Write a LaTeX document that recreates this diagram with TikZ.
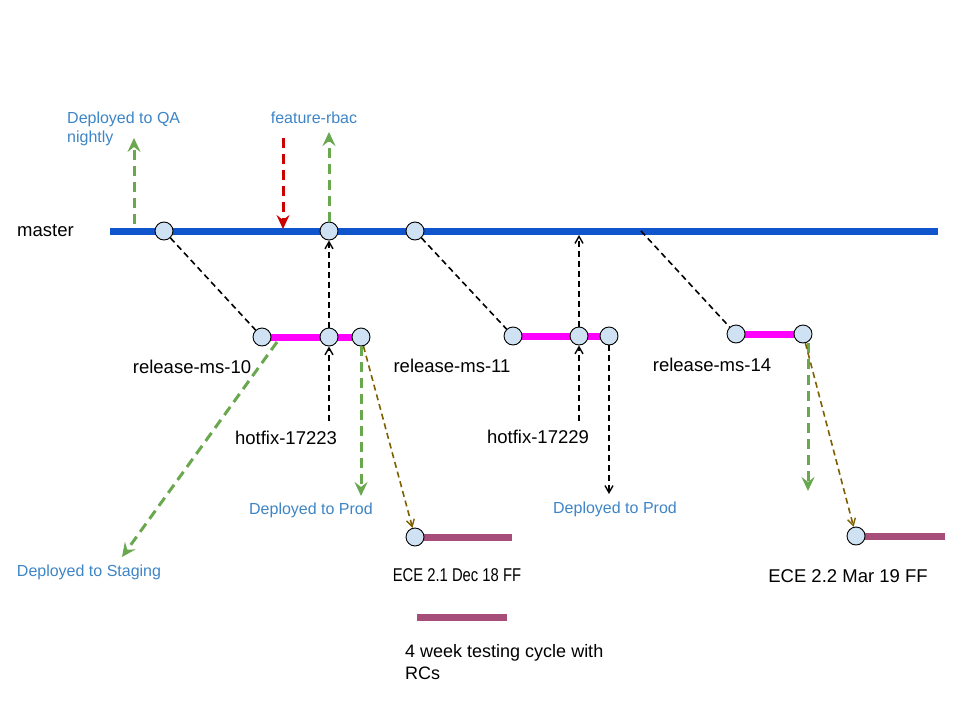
\documentclass[tikz,border=0pt]{standalone}
\usepackage{fontspec}
\setmainfont{Liberation Sans}
\usetikzlibrary{arrows.meta,backgrounds}
\definecolor{masterblue}{HTML}{1155CC}
\definecolor{relmag}{HTML}{FF00FF}
\definecolor{ecebar}{HTML}{A64D79}
\definecolor{cfill}{HTML}{CFE2F3}
\definecolor{dgreen}{HTML}{6AA84F}
\definecolor{dred}{HTML}{CC0000}
\definecolor{dbrown}{HTML}{7F6000}
\definecolor{lblue}{HTML}{3D85C6}
\tikzset{
  commit/.style={circle,draw=black,fill=cfill,minimum size=18pt,inner sep=0pt,line width=0.9pt},
  blabel/.style={text=black,font=\fontsize{18.5}{21}\selectfont,inner sep=0pt},
  clabel/.style={text=lblue,font=\fontsize{16}{19}\selectfont,inner sep=0pt,align=left},
  mline/.style={draw=masterblue,line width=7pt},
  rline/.style={draw=relmag,line width=7pt},
  eline/.style={draw=ecebar,line width=7pt},
  blk/.style={draw=black,line width=1.6pt,dash pattern=on 6pt off 4pt},
  blkarr/.style={blk,-{Straight Barb[length=7pt,width=8pt,line width=1.4pt]}},
  grn/.style={draw=dgreen,line width=3pt,dash pattern=on 10pt off 6pt},
  grnarr/.style={grn,-{Stealth[length=14pt,width=13pt,inset=5pt]}},
  redarr/.style={draw=dred,line width=3pt,dash pattern=on 10pt off 6pt,-{Stealth[length=14pt,width=13pt,inset=5pt]}},
  brnarr/.style={draw=dbrown,line width=1.6pt,dash pattern=on 6pt off 4pt,-{Straight Barb[length=7pt,width=8pt,line width=1.4pt]}},
}
\begin{document}
\begin{tikzpicture}[x=1pt,y=-1pt]
\useasboundingbox (0,0) rectangle (960,720);

% free ends
\coordinate (mL) at (110,231);
\coordinate (mR) at (938,231);
\coordinate (qaTop) at (134,138);
\coordinate (qaBot) at (134,224);
\coordinate (redTop) at (283,138);
\coordinate (redBot) at (283,229);
\coordinate (rbacTop) at (329,132);
\coordinate (stgStart) at (277,342);
\coordinate (stgEnd) at (122,557);
\coordinate (hf1) at (329,421);
\coordinate (prod1) at (361,496);
\coordinate (m11up) at (579,235);
\coordinate (hf2) at (579,421);
\coordinate (prod2) at (609,494);
\coordinate (m14) at (641,231);
\coordinate (g14s) at (808,343);
\coordinate (g14e) at (808,491);
\coordinate (e1R) at (512,537);
\coordinate (e2R) at (945,536);
\coordinate (legL) at (417,617);
\coordinate (legR) at (507,617);

% commits
\node[commit] (m1) at (164,231) {};
\node[commit] (m2) at (329,231) {};
\node[commit] (m3) at (415,231) {};
\node[commit] (r10a) at (262,337) {};
\node[commit] (r10b) at (329,337) {};
\node[commit] (r10c) at (361,337) {};
\node[commit] (r11a) at (513,336) {};
\node[commit] (r11b) at (579,336) {};
\node[commit] (r11c) at (609,336) {};
\node[commit] (r14a) at (736,334) {};
\node[commit] (r14b) at (803,334) {};
\node[commit] (e1) at (415,537) {};
\node[commit] (e2) at (856,536) {};

% labels
\node[blabel,anchor=west] (lmaster) at (17,231) {master};
\node[blabel] (l10) at (192,367) {release-ms-10};
\node[blabel] (l11) at (452,366) {release-ms-11};
\node[blabel] (l14) at (712,365) {release-ms-14};
\node[blabel] (lhf1) at (286,438) {hotfix-17223};
\node[blabel] (lhf2) at (538,437) {hotfix-17229};
\node[blabel] (lece1) at (457,575) {\scalebox{0.8}[1]{ECE 2.1 Dec 18 FF}};
\node[blabel] (lece2) at (848,576) {ECE 2.2 Mar 19 FF};
\node[blabel,anchor=north west,align=left,font=\fontsize{18}{22}\selectfont] (lleg) at (405,644) {4 week testing cycle with\\RCs};
\node[clabel,anchor=north west] (lqa) at (67,112) {Deployed to QA\\nightly};
\node[clabel] (lrbac) at (314,118) {feature-rbac};
\node[clabel] (lstg) at (89,572) {Deployed to Staging};
\node[clabel] (lprod1) at (311,510) {Deployed to Prod};
\node[clabel] (lprod2) at (615,509) {Deployed to Prod};

\begin{scope}[on background layer]
\draw[mline] (mL) -- (mR);
\draw[rline] (r10a) -- (r10c);
\draw[rline] (r11a) -- (r11c);
\draw[rline] (r14a) -- (r14b);
\draw[eline] (e1) -- (e1R);
\draw[eline] (e2) -- (e2R);
\draw[eline] (legL) -- (legR);
\end{scope}

% connectors
\draw[grnarr] (qaBot) -- (qaTop);
\draw[redarr] (redTop) -- (redBot);
\draw[grnarr] (m2) -- (rbacTop);
\draw[blk] (m1) -- (r10a);
\draw[blkarr] (r10b) -- (m2);
\draw[blkarr] (hf1) -- (r10b);
\draw[grnarr] (stgStart) -- (stgEnd);
\draw[grnarr] (r10c) -- (prod1);
\draw[brnarr] (r10c) -- (e1);
\draw[blk] (m3) -- (r11a);
\draw[blkarr] (r11b) -- (m11up);
\draw[blkarr] (hf2) -- (r11b);
\draw[blkarr] (r11c) -- (prod2);
\draw[blk] (m14) -- (r14a);
\draw[grnarr] (g14s) -- (g14e);
\draw[brnarr] (r14b) -- (e2);
\end{tikzpicture}
\end{document}
